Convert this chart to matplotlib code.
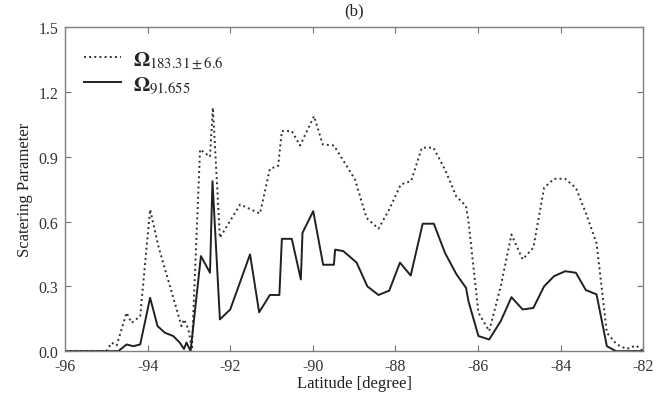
import numpy as np
import matplotlib
matplotlib.use('Agg')
import matplotlib.pyplot as plt

plt.rcParams['font.family'] = ['Liberation Serif', 'DejaVu Serif']
plt.rcParams['mathtext.fontset'] = 'stix'

# 183.31 +/- 6.6 GHz scattering parameter (dotted)
lat_183 = [-96.0, -95.0, -94.87, -94.75, -94.51, -94.39, -94.18, -93.94, -93.74,
           -93.18, -93.12, -93.01, -92.93, -92.73, -92.49, -92.42, -92.25, -91.76,
           -91.28, -91.04, -90.84, -90.75, -90.51, -90.31, -89.97, -89.76, -89.49,
           -89.18, -88.98, -88.70, -88.41, -88.15, -87.87, -87.62, -87.36, -87.08,
           -86.80, -86.53, -86.29, -86.23, -85.99, -85.73, -85.45, -85.19, -84.92,
           -84.66, -84.40, -84.16, -83.89, -83.63, -83.39, -83.13, -82.88, -82.64,
           -82.40, -82.17, -82.0]
omega_183 = [0.0, 0.0, 0.039, 0.026, 0.178, 0.131, 0.162, 0.656, 0.486,
             0.116, 0.147, 0.10, 0.008, 0.934, 0.90, 1.127, 0.525, 0.679,
             0.637, 0.844, 0.857, 1.019, 1.019, 0.952, 1.088, 0.957, 0.952,
             0.857, 0.795, 0.617, 0.567, 0.656, 0.772, 0.787, 0.942, 0.942,
             0.841, 0.718, 0.671, 0.60, 0.178, 0.093, 0.30, 0.54, 0.425,
             0.479, 0.756, 0.798, 0.798, 0.756, 0.64, 0.50, 0.085, 0.031,
             0.01, 0.026, 0.0]

# 91.655 GHz scattering parameter (solid)
lat_91 = [-96.0, -94.71, -94.51, -94.35, -94.18, -93.94, -93.76, -93.58, -93.38,
          -93.22, -93.12, -93.06, -92.96, -92.71, -92.49, -92.43, -92.25, -92.0,
          -91.52, -91.30, -91.04, -90.81, -90.75, -90.51, -90.29, -90.25, -89.99,
          -89.75, -89.49, -89.46, -89.26, -88.94, -88.68, -88.41, -88.15, -87.89,
          -87.63, -87.34, -87.07, -86.80, -86.52, -86.29, -86.23, -85.99, -85.73,
          -85.45, -85.19, -84.92, -84.66, -84.40, -84.16, -83.89, -83.63, -83.39,
          -83.13, -82.88, -82.66, -82.17, -82.0]
omega_91 = [0.0, 0.0, 0.031, 0.023, 0.031, 0.247, 0.116, 0.085, 0.07,
            0.039, 0.01, 0.04, 0.0, 0.44, 0.363, 0.787, 0.147, 0.193,
            0.448, 0.18, 0.26, 0.26, 0.52, 0.52, 0.332, 0.548, 0.648,
            0.40, 0.40, 0.47, 0.463, 0.41, 0.30, 0.26, 0.28, 0.41,
            0.35, 0.59, 0.59, 0.455, 0.355, 0.293, 0.23, 0.07, 0.054,
            0.139, 0.25, 0.193, 0.20, 0.30, 0.347, 0.37, 0.363, 0.283,
            0.263, 0.023, 0.0, 0.0, 0.0]

xticks = [-96, -94, -92, -90, -88, -86, -84, -82]
yticks = [0.0, 0.3, 0.6, 0.9, 1.2, 1.5]

fig = plt.figure(figsize=(6.57, 4.02), dpi=100)
ax = fig.add_axes([0.099, 0.124, 0.88, 0.806])

ax.plot(lat_183, omega_183, ls=':', color='#303030', lw=1.4,
        label=r'$\mathbf{\Omega}_{183.31\pm6.6}$')
ax.plot(lat_91, omega_91, ls='-', color='#202020', lw=1.4,
        label=r'$\mathbf{\Omega}_{91.655}$')

ax.set_xlim(-96, -82)
ax.set_ylim(0, 1.5)
ax.set_xticks(xticks)
ax.set_xticklabels([str(t) for t in xticks])
ax.set_yticks(yticks)
ax.set_yticklabels(['%.1f' % t for t in yticks])
ax.tick_params(direction='in', top=True, right=True, length=4, width=0.8,
               color='#707070', labelsize=11.5, labelcolor='#333333', pad=5)
for sp in ax.spines.values():
    sp.set_color('#808080')
    sp.set_linewidth(1.0)

ax.set_xlabel('Latitude [degree]', fontsize=12, color='#222222', labelpad=1)
ax.set_ylabel('Scatering Parameter', fontsize=12, color='#222222', labelpad=4)
ax.set_title('(b)', fontsize=12, color='#222222', pad=9)

leg = ax.legend(loc='upper left', bbox_to_anchor=(0.018, 0.958), frameon=False,
                fontsize=15, handlelength=1.8, handletextpad=0.55,
                labelspacing=0.2, borderaxespad=0.0)
for t in leg.get_texts():
    t.set_color('#222222')

fig.savefig('out.png', dpi=100)
